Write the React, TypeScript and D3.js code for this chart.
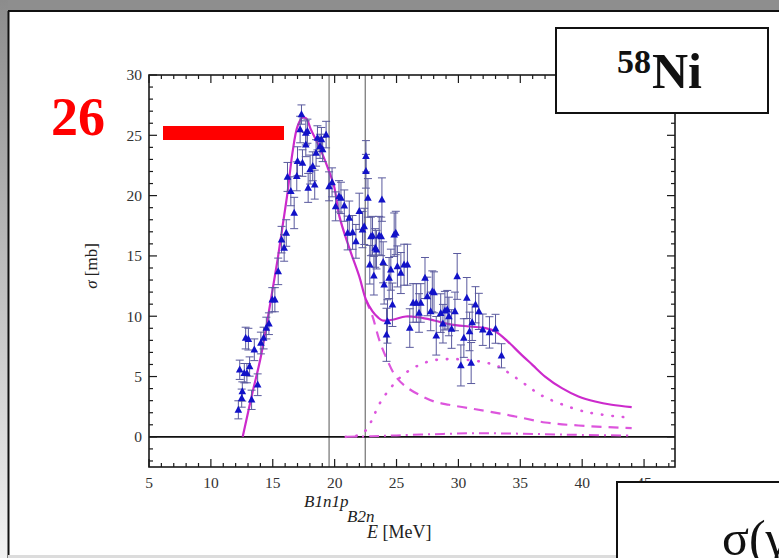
import React from "react";
import * as d3 from "d3";

// Photoabsorption data for 58Ni: energy [MeV], cross section [mb], uncertainty [mb]
const energy = [
  12.22, 12.33, 12.49, 12.54, 12.7, 12.81, 12.91, 13.03, 13.13, 13.29, 13.51, 13.78, 14.04, 14.26, 14.48, 14.69,
  14.96, 15.17, 15.44, 15.71, 15.92, 16.09, 16.19, 16.46, 16.73, 16.94, 17.0, 17.21, 17.32, 17.4, 17.67, 17.67,
  17.8, 17.86, 18.02, 18.23, 18.39, 18.5, 18.61, 18.82, 18.93, 19.03, 19.31, 19.55, 19.79, 20.08, 20.35,
  20.51, 20.78, 21.05, 21.18, 21.45, 21.72, 21.99, 22.25, 22.39, 22.53, 22.53, 22.69, 22.84, 22.93, 23.06, 23.17,
  23.28, 23.38, 23.6, 23.76, 23.82, 23.92, 24.0, 24.19, 24.27, 24.4, 24.54, 24.67, 24.81, 24.94, 25.07, 25.35,
  25.61, 25.88, 26.07, 26.34, 26.6, 26.82, 26.96, 27.3, 27.49, 27.76, 27.89,
  28.03, 28.21, 28.57, 28.75, 28.91, 29.1, 29.23, 29.45, 29.72, 29.9, 30.2, 30.44, 30.68, 30.9, 31.03, 31.11,
  31.38, 31.65, 31.97, 32.51, 33.0, 33.48,
];
const sigma = [
  2.24, 5.56, 3.21, 3.76, 5.28, 8.19, 5.28, 8.1, 5.83, 3.07, 7.22, 4.32, 7.78, 8.19, 9.02, 9.38,
  11.37, 11.37, 13.72, 16.35, 15.66, 16.9, 21.55, 20.36, 18.56, 21.6, 22.85, 25.48, 26.72, 22.7, 24.23, 25.2,
  25.34, 20.64, 22.16, 22.43, 20.91, 23.54, 24.79, 24.09, 24.65, 23.82, 25.06, 20.77, 21.1, 19.11, 19.94,
  19.81, 19.17, 16.9, 18.15, 16.95, 16.21, 18.7, 17.18, 17.45, 23.26, 22.02, 19.81, 14.27, 16.62, 16.68, 13.36,
  15.66, 15.52, 16.68, 16.62, 19.67, 14.47, 12.61, 8.46, 9.57, 13.17, 13.86, 10.95, 16.76, 16.9, 14.13, 13.58,
  14.27, 14.27, 9.02, 11.1, 11.1, 10.27, 11.1, 13.17, 11.64, 10.4, 12.06,
  11.98, 8.38, 10.26, 9.38, 10.46, 10.54, 9.98, 8.94, 10.4, 13.3, 5.92, 8.19, 11.51, 8.74, 6.12, 9.49,
  10.95, 10.4, 8.88, 8.66, 8.96, 6.72,
];
const sigmaErr = [
  0.75, 0.8, 0.75, 0.8, 0.8, 0.9, 0.8, 0.9, 0.8, 0.8, 0.9, 0.9, 0.9, 0.9, 0.9, 0.9,
  1.0, 1.0, 1.1, 1.1, 1.1, 1.1, 1.2, 1.2, 1.3, 1.2, 1.2, 1.1, 0.8, 1.1, 1.0, 1.0,
  1.0, 1.2, 1.2, 1.2, 1.2, 1.1, 1.0, 1.0, 1.0, 1.0, 1.1, 1.2, 1.2, 1.2, 1.3,
  1.3, 1.3, 1.4, 1.4, 1.4, 1.4, 1.5, 1.5, 1.5, 1.3, 1.4, 1.6, 1.6, 1.6, 1.6, 1.6,
  1.6, 1.6, 1.6, 1.6, 1.8, 1.7, 1.6, 2.2, 1.8, 1.7, 1.7, 1.8, 1.8, 1.8, 1.7, 1.7,
  1.7, 1.7, 1.6, 1.6, 1.6, 1.6, 1.6, 1.7, 1.6, 1.6, 1.7,
  1.7, 1.6, 1.6, 1.6, 1.6, 1.6, 1.6, 1.6, 1.6, 1.9, 1.7, 1.6, 1.7, 1.6, 1.7, 1.5,
  1.5, 1.5, 1.3, 1.3, 1.2, 1.0,
];

// Model curves: total, partial channels
const totalE = [12.57, 13.3, 14.04, 14.85, 15.39, 15.79, 16.19, 16.59, 17.0, 17.4, 17.7, 18.07, 18.74, 19.41, 19.95, 20.38, 21.18, 21.99, 22.53, 23.06, 23.5, 23.87, 24.67, 25.75, 26.82, 28.03, 29.23, 30.85, 32.19, 33.0, 34.0, 35.0, 36.0, 37.0, 38.36, 39.7, 41.05, 42.38, 44.0];
const totalS = [0, 3.4, 6.66, 11.37, 14.69, 17.45, 20.22, 23.54, 25.75, 26.45, 26.4, 25.5, 24.1, 22.4, 20.8, 18.3, 15.66, 13.3, 11.37, 10.4, 9.9, 9.65, 9.71, 9.98, 9.9, 9.65, 9.35, 9.15, 9.02, 8.74, 7.9, 6.9, 5.95, 5.0, 4.04, 3.35, 2.93, 2.66, 2.47];

const dashedE = [22.5, 23.06, 23.6, 24.13, 24.94, 25.75, 26.82, 28.03, 29.23, 30.85, 32.46, 34.6, 37.02, 39.7, 44.0];
const dashedS = [11.4, 9.98, 8.05, 6.66, 5.0, 4.17, 3.49, 2.93, 2.66, 2.38, 2.1, 1.69, 1.19, 0.94, 0.72];

const dottedE = [20.9, 21.8, 22.53, 23.06, 23.6, 24.4, 25.48, 26.82, 28.03, 29.5, 31.0, 32.46, 33.3, 34.07, 35.68, 36.48, 37.45, 39.14, 40.27, 41.15, 43.08, 44.0];
const dottedS = [0, 0.1, 0.55, 1.5, 2.7, 3.9, 5.1, 5.95, 6.35, 6.45, 6.35, 6.1, 5.8, 5.3, 4.15, 3.57, 3.07, 2.41, 2.07, 1.91, 1.66, 1.6];

const dashDotE = [21.0, 23.0, 25.0, 28.0, 31.0, 34.0, 37.0, 40.0, 44.0];
const dashDotS = [0, 0.05, 0.12, 0.22, 0.3, 0.28, 0.22, 0.16, 0.11];

// Thresholds
const thresholdE = [19.55, 22.47];

const xTicks = [5, 10, 15, 20, 25, 30, 35, 40, 45];
const yTicks = [0, 5, 10, 15, 20, 25, 30];

const W = 779;
const H = 558;

export default function App() {
  const x = d3.scaleLinear().domain([5, 47.5]).range([149, 675]);
  const y = d3.scaleLinear().domain([-2.5, 30]).range([467, 75]);
  const [x0, x1] = x.range();
  const [yb, yt] = y.range();

  const line = d3
    .line<[number, number]>()
    .x((d) => x(d[0]))
    .y((d) => y(d[1]))
    .curve(d3.curveCatmullRom.alpha(0.5));
  const zipPts = (a: number[], b: number[]) => a.map((v, i) => [v, b[i]] as [number, number]);

  const xMinor = d3.range(5, 48, 1);
  const yMinor = d3.range(-2, 31, 1);
  const serif = "'Liberation Serif', 'DejaVu Serif', serif";
  const frameColor = "#1a1a1a";

  return (
    <svg
      width={W}
      height={H}
      style={{ position: "absolute", left: 0, top: 0, display: "block" }}
      fontFamily={serif}
    >
      <defs>
        <linearGradient id="leftBand" x1="0" y1="0" x2="0" y2="1">
          <stop offset="0" stopColor="#8c8c8c" />
          <stop offset="1" stopColor="#f2f2f2" />
        </linearGradient>
      </defs>
      <rect x={0} y={0} width={W} height={H} fill="#ffffff" />
      {/* slide frame */}
      <rect x={0} y={0} width={W} height={10} fill="#8e8e8e" />
      <rect x={0} y={0} width={8} height={H} fill="url(#leftBand)" />
      <line x1={8} x2={W} y1={11} y2={11} stroke="#111" strokeWidth={2} />
      <line x1={8.5} x2={8.5} y1={11} y2={H} stroke="#111" strokeWidth={2} />
      <rect x={8} y={555} width={W} height={3} fill="#dcdcdc" />

      {/* thresholds */}
      {thresholdE.map((e, i) => (
        <line key={`th${i}`} x1={x(e)} x2={x(e)} y1={yt} y2={yb} stroke="#555" strokeWidth={1} />
      ))}

      {/* zero line */}
      <line x1={x0} x2={x1} y1={y(0)} y2={y(0)} stroke="#111" strokeWidth={1.6} />

      {/* model curves */}
      <path d={line(zipPts(dashDotE, dashDotS)) || ""} fill="none" stroke="#dd55dd" strokeWidth={2} strokeDasharray="10 5 2 5" />
      <path d={line(zipPts(dottedE, dottedS)) || ""} fill="none" stroke="#dd55dd" strokeWidth={2.6} strokeDasharray="0.5 10" strokeLinecap="round" />
      <path d={line(zipPts(dashedE, dashedS)) || ""} fill="none" stroke="#dd55dd" strokeWidth={2.2} strokeDasharray="10 7" />
      <path d={line(zipPts(totalE, totalS)) || ""} fill="none" stroke="#cc2acc" strokeWidth={2.2} />

      {/* data with error bars */}
      {energy.map((e, i) => {
        const cx = x(e);
        const top = y(sigma[i] + sigmaErr[i]);
        const bot = y(sigma[i] - sigmaErr[i]);
        return (
          <g key={`eb${i}`} stroke="#5a5a9e" strokeWidth={1}>
            <line x1={cx} x2={cx} y1={top} y2={bot} />
            <line x1={cx - 4} x2={cx + 4} y1={top} y2={top} />
            <line x1={cx - 4} x2={cx + 4} y1={bot} y2={bot} />
          </g>
        );
      })}
      {energy.map((e, i) => {
        const cx = x(e);
        const cy = y(sigma[i]);
        return (
          <path
            key={`pt${i}`}
            d={`M${cx},${cy - 4.2}L${cx + 3.8},${cy + 2.8}L${cx - 3.8},${cy + 2.8}Z`}
            fill="#1212c8"
          />
        );
      })}

      {/* frame and ticks */}
      <rect x={x0} y={yt} width={x1 - x0} height={yb - yt} fill="none" stroke={frameColor} strokeWidth={1.6} />
      {xMinor.map((v) => {
        const major = v % 5 === 0;
        const len = major ? 8 : 4;
        return (
          <g key={`xt${v}`} stroke={frameColor} strokeWidth={1.2}>
            <line x1={x(v)} x2={x(v)} y1={yb} y2={yb - len} />
            <line x1={x(v)} x2={x(v)} y1={yt} y2={yt + len} />
          </g>
        );
      })}
      {yMinor.map((v) => {
        const major = v % 5 === 0;
        const len = major ? 8 : 4;
        return (
          <g key={`yt${v}`} stroke={frameColor} strokeWidth={1.2}>
            <line x1={x0} x2={x0 + len} y1={y(v)} y2={y(v)} />
            <line x1={x1} x2={x1 - len} y1={y(v)} y2={y(v)} />
          </g>
        );
      })}
      {xTicks.map((v) => (
        <text key={`xl${v}`} x={x(v)} y={488} textAnchor="middle" fontSize={15.5} fill="#333">
          {v}
        </text>
      ))}
      {yTicks.map((v) => (
        <text key={`yl${v}`} x={142} y={y(v)} dy="0.35em" textAnchor="end" fontSize={15.5} fill="#333">
          {v}
        </text>
      ))}

      {/* axis labels */}
      <text transform="translate(97,266) rotate(-90)" textAnchor="middle" fontSize={17} fill="#222">
        <tspan fontStyle="italic">σ</tspan> [mb]
      </text>
      <text x={304} y={507} fontSize={17} fill="#222" fontStyle="italic">
        B1n1p
      </text>
      <text x={347} y={522} fontSize={17} fill="#222" fontStyle="italic">
        B2n
      </text>
      <text x={367} y={538} fontSize={18} fill="#222">
        <tspan fontStyle="italic">E</tspan> [MeV]
      </text>

      {/* annotation */}
      <text x={51} y={135} fontSize={54} fontWeight="bold" fill="#ff0000">
        26
      </text>
      <rect x={163} y={126} width={121} height={14} fill="#ff0000" />

      {/* nucleus label */}
      <rect x={556} y={28} width={212} height={85} fill="#ffffff" stroke="#111" strokeWidth={2} />
      <text x={617} y={73} fontSize={34} fontWeight="bold" fill="#111">
        58
      </text>
      <text x={652} y={88} fontSize={50} fontWeight="bold" fill="#111">
        Ni
      </text>

      {/* reaction label */}
      <rect x={617} y={482} width={200} height={120} fill="#ffffff" stroke="#111" strokeWidth={2} />
      <text x={722} y={555} fontSize={50} fill="#111">
        σ(γ,n)
      </text>
    </svg>
  );
}
